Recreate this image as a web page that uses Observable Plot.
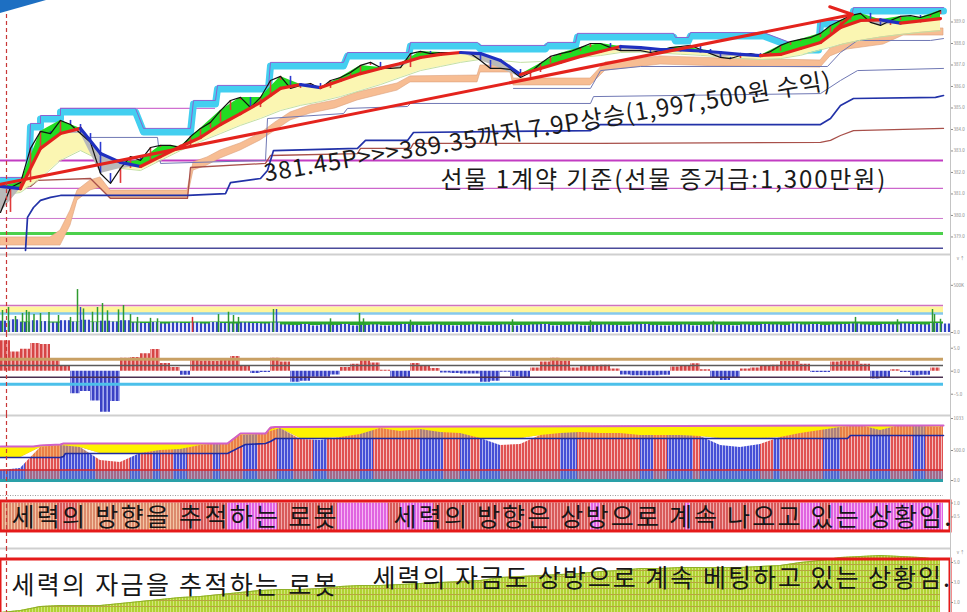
<!DOCTYPE html>
<html><head><meta charset="utf-8">
<script src="https://cdn.jsdelivr.net/npm/d3@7"></script>
<script src="https://cdn.jsdelivr.net/npm/@observablehq/plot@0.6"></script>
<style>
html,body{margin:0;padding:0;background:#fff;}
#wrap{position:relative;width:967px;height:612px;overflow:hidden;}
#wrap svg{display:block;}
#corner{position:absolute;left:0;top:0;width:46px;height:13px;background:#1d6fc2;clip-path:polygon(0 0,100% 0,0 100%);}
</style></head><body>
<svg width="0" height="0" style="position:absolute"><defs>
<pattern id="oR" width="4" height="4" patternUnits="userSpaceOnUse"><rect width="4" height="4" fill="#f3b0b0"/><rect width="2.4" height="4" fill="#d64545"/></pattern>
<pattern id="oB" width="4" height="4" patternUnits="userSpaceOnUse"><rect width="4" height="4" fill="#a6acef"/><rect width="2.4" height="4" fill="#3a41c4"/></pattern>
<pattern id="vB" width="4" height="4" patternUnits="userSpaceOnUse"><rect width="4" height="4" fill="#e2e5fb"/><rect width="2" height="4" fill="#3344c4"/></pattern>
<pattern id="p4R" width="3" height="4" patternUnits="userSpaceOnUse"><rect width="3" height="4" fill="#f4bcbc"/><rect width="2" height="4" fill="#e05252"/></pattern>
<pattern id="p4B" width="3" height="4" patternUnits="userSpaceOnUse"><rect width="3" height="4" fill="#b0b5f0"/><rect width="2" height="4" fill="#4650d6"/></pattern>
<pattern id="p5R" width="3" height="4" patternUnits="userSpaceOnUse"><rect width="3" height="4" fill="#f2aaaa"/><rect width="2" height="4" fill="#d85a5a"/></pattern>
<pattern id="p5M" width="3" height="4" patternUnits="userSpaceOnUse"><rect width="3" height="4" fill="#f6b6f4"/><rect width="2" height="4" fill="#e064e0"/></pattern>
<pattern id="p5T" width="3" height="4" patternUnits="userSpaceOnUse"><rect width="3" height="4" fill="#f3c6a6"/><rect width="2" height="4" fill="#dc8a6c"/></pattern>
<pattern id="gO" width="3" height="6" patternUnits="userSpaceOnUse"><rect width="3" height="6" fill="#b0d232"/><rect x="2" width="1" height="6" fill="#d2e67a"/><rect y="5" width="3" height="1" fill="#b8a440"/></pattern>
</defs></svg>
<div id="wrap"><div id="corner"></div></div>
<script>
// ---------------- DATA ----------------
// main price panel (t = time index, 1 unit = 10 px step of the screenshot)
const black = [380.14,381.30,381.53,383.12,383.91,383.81,384.42,384.23,383.81,383.40,
 381.95,381.49,382.19,382.74,382.56,383.16,383.26,383.26,383.16,383.67,
 384.05,384.33,384.88,385.35,385.49,385.02,385.49,386.28,386.47,385.91,
 386.05,386.14,385.91,386.28,386.42,386.65,386.98,387.12,386.88,386.84,
 386.88,387.53,387.63,387.53,387.58,387.58,387.58,387.53,387.21,386.84,
 386.84,386.79,386.42,386.65,387.07,387.40,387.53,387.63,387.81,388.00,
 388.00,387.81,387.67,387.67,387.67,387.58,387.67,387.81,387.86,387.91,
 387.72,387.53,387.35,387.30,387.44,387.53,387.44,387.63,387.91,388.09,
 388.19,388.28,388.47,388.84,389.07,389.30,389.40,388.98,388.84,389.07,
 389.26,389.30,389.21,389.35,389.53];
// thick moving average, every 2 steps
const ma = [381.35,381.25,383.12,383.81,384.05,382.88,382.47,382.28,382.74,383.21,
 383.63,384.23,384.74,385.26,385.91,386.09,385.95,386.28,386.60,386.84,
 387.07,387.35,387.49,387.58,387.53,387.21,386.56,386.84,387.12,387.40,
 387.63,387.86,387.81,387.72,387.70,387.65,387.58,387.49,387.44,387.49,
 387.77,388.05,388.74,389.07,389.10,388.95,389.05,389.16];
const yellowLow = [380.93,381.07,381.72,382.56,383.02,382.56,382.19,382.09,382.56,383.02,
 383.44,383.81,384.19,384.51,384.88,385.12,385.30,385.53,385.81,386.09,
 386.42,386.74,386.93,387.12,387.26,387.21,387.12,387.16,387.21,387.35,
 387.44,387.58,387.60,387.55,387.50,387.45,387.38,387.30,387.25,387.30,
 387.45,387.70,387.95,388.15,388.30,388.42,388.52,388.60];
const cyanT = [0,2.8,3.0,4.0,4.0,6.0,6.0,13.5,14.3,19.0,19.3,21.5,21.7,26.8,27.0,34.3,34.7,40.8,41.0,47.7,48.0,54.5,54.7,57.5,57.7,67.3,67.5,68.8,69.0,76.3,80.0,81.8,82.0,85.0,85.3,94.3];
const cyanV = [381.77,381.77,384.28,384.28,384.65,384.65,384.98,384.98,384.05,384.05,385.35,385.35,386.05,386.05,387.12,387.12,387.58,387.58,388.05,388.05,387.91,387.91,388.05,388.05,388.47,388.47,388.28,388.28,388.51,388.51,387.86,387.86,389.07,389.07,389.67,389.67];
const orangeT = [0,5.0,6.0,7.0,7.7,9.0,10.0,11.0,18.7,19.3,20.7,22.0,24.0,26.0,27.5,29.0,31.0,33.5,35.7,39.7,41.0,47.7,48.0,51.0,51.3,59.0,60.5,66.0,72.3,82.0,83.0,84.7,88.3,90.3,94.3];
const orangeTop = [378.98,378.98,379.30,380.23,381.16,381.63,381.77,381.16,381.16,382.47,382.70,383.02,383.35,383.81,384.33,384.79,385.12,385.35,385.72,386.14,386.47,386.51,386.98,386.98,386.37,386.37,387.12,387.40,387.30,387.21,387.77,388.05,388.33,388.70,388.70];
const orangeBot = [378.60,378.60,378.60,379.53,380.70,381.16,381.30,380.79,380.79,382.09,382.33,382.65,383.02,383.49,383.95,384.42,384.74,384.98,385.35,385.81,386.19,386.19,386.65,386.65,386.05,386.05,386.74,387.02,386.93,386.88,387.40,387.72,387.95,388.37,388.37];
const navyT = [2.5,2.7,3.3,4.0,5.0,6.0,18.7,22.5,23.0,26.0,26.7,27.3,35.7,36.5,40.7,41.3,59.0,60.0,82.0,83.0,84.0,85.3,93.5,94.3];
const navyV = [378.37,379.91,380.37,380.70,380.84,380.93,380.93,381.02,381.53,381.72,382.09,383.02,383.12,383.49,383.49,383.86,383.95,384.23,384.23,384.51,385.12,385.44,385.49,385.58];
const brownT = [0,3.0,3.7,9.0,11.0,18.7,19.0,26.5,27.0,35.7,36.0,41.0,41.3,60.0,82.0,83.0,84.0,85.3,94.3];
const brownV = [381.16,381.35,381.63,381.72,380.79,380.79,382.23,382.42,382.79,382.88,383.12,383.12,383.35,383.35,383.40,383.49,383.72,383.95,384.05];
const slate1T = [8.0,15.7,16.0,26.5,26.7,34.3,34.7,40.7,41.0,59.0,59.3,82.0,84.0,85.7,94.3];
const slate1V = [383.63,383.63,382.42,382.56,384.51,384.74,384.98,385.07,385.21,385.21,385.53,385.67,386.28,386.74,386.84];
const slate2T = [51.3,59.0,60.0,64.0,82.7,84.0,85.7,93.0,94.3];
const slate2V = [385.91,385.91,386.74,386.93,386.93,387.58,388.14,388.14,388.23];
const pinkSegs = [[6.0,21.5,384.98]];
const levels = [382.56,381.26,379.86,379.16,378.47];
const priceTicks = [389,388,387,386,385,384,383,382,381,380,379];
const arrowFrom = [0,381.45], arrowTo = [85.2,389.35];
const note1 = "381.45P>>>389.35까지 7.9P상승(1,997,500원 수익)";
const note2 = "선물 1계약 기준(선물 증거금:1,300만원)";

// volume panel
const volBase = [120,135,105,125,115,100,125,110,130,105,120,110,125,
 100,95,105,90,100,95,100,90,105,95,90,100,95,90,100,
 80,75,85,70,80,75,85,70,75,80,70,75,85,75,70,80,75,70,75,80,
 70,75,80,70,75,80,85,70,75,80,70,75,80,75,70,80,85,75,70,75,
 80,70,75,80,75,70,80,75,85,80,75,90,80,85,75,80,85,90,80,75,85,80,90,85,80,95,90];
const spikeT = [0.2,0.8,1.5,2.2,2.6,2.85,3.35,4.0,4.85,5.8,7.0,7.7,8.0,8.3,9.2,9.7,10.2,10.7,11.8,12.3,13.0,13.7,15.0,15.7,19.2,21.8,22.8,23.3,23.8,27.3,27.6,33.0,35.9,36.3,41.0,51.2,59.0,71.3,85.5,89.7,93.2,93.4,94.0];
const spikeV = [233,265,170,201,233,215,190,201,212,180,160,455,265,250,215,265,307,230,240,286,190,160,150,145,160,190,215,180,160,244,244,145,201,145,130,135,125,120,160,135,244,190,140];
const spikeKind = "GGGGGGGGGGGGBGGGGGGGGGGGRGGGGGBGGGGGGGGGGGG";
const volLevels = [286,238.5,201,97.5];

// oscillator panel
const osc = [6.6,4.2,4.8,6.0,5.8,2.3,1.0,-4.9,-4.4,-6.5,-8.9,-6.6,2.8,3.0,3.8,4.7,1.7,0.8,-0.9,2.7,
 2.2,2.1,2.4,3.2,1.2,-0.5,-0.3,2.8,2.0,-2.4,-2.2,-1.3,-1.3,-0.8,0.8,1.5,2.3,1.8,0.2,-1.4,
 -1.6,1.7,1.2,0.6,-0.4,-0.5,-0.6,-0.6,-2.4,-2.2,-0.2,-1.2,-1.6,0.7,2.0,2.8,2.2,0.7,1.0,1.2,
 1.3,0.5,-0.8,-1.0,-1.0,-1.0,-0.9,0.9,1.0,1.6,0.3,-1.4,-2.0,-1.6,0.5,0.7,1.2,1.3,2.1,2.1,
 1.5,-0.3,-0.3,2.0,2.2,2.2,1.5,-1.7,-1.5,0.3,-0.3,-1.0,-0.9,0.7,0.7];
const oscLevels = [2.6,1.25,-1.3,-2.85];

// cumulative panel
const envelope = [167,200,550,583,550,333,300,450,500,516,583,616,750,766,866,683,666,716,766,866,
 816,850,800,783,700,583,600,750,783,800,783,783,750,750,750,733,583,550,600,716,
 783,833,883,916,833,916,900,883];
const p4X = [0,3.3,4.0,6.0,6.3,6.5,22.7,24.0,24.5,26.5,27.0,27.5,48.0,84.7,85.0,94.3];
const p4Top = [566,566,583,600,616,616,616,783,783,783,883,890,900,916,916,916];
const p4Navy = [383,383,383,383,400,450,450,560,600,616,650,700,700,700,750,750];
const p4RedLine = 175, p4Dotted = -250;
const p4Runs = [[0,2.5,"B"],[2.5,6,"R"],[6,9.5,"B"],[9.5,13,"R"],[13,14,"B"],[14,15.3,"R"],[15.3,16,"B"],[16,17.3,"R"],[17.3,18.7,"B"],[18.7,21.3,"R"],[21.3,22,"B"],[22,24.3,"R"],[24.3,25.7,"B"],[25.7,27.7,"R"],[27.7,29.3,"B"],[29.3,31.3,"R"],[31.3,32.7,"B"],[32.7,36,"R"],[36,37.3,"B"],[37.3,42,"R"],[42,44.3,"B"],[44.3,46,"R"],[46,47,"B"],[47,48,"R"],[48,50,"B"],[50,56,"R"],[56,57.7,"B"],[57.7,64,"R"],[64,65.3,"B"],[65.3,66.7,"R"],[66.7,69.3,"B"],[69.3,70,"R"],[70,76,"B"],[76,77.3,"R"],[77.3,78,"B"],[78,82.3,"R"],[82.3,84,"B"],[84,87,"R"],[87,89,"B"],[89,91.3,"R"],[91.3,92.5,"B"],[92.5,94.3,"R"]];

// direction panel
const p5Runs = [[0,5.7,"T"],[5.7,7.7,"R"],[7.7,18,"T"],[18,22.7,"R"],[22.7,27.7,"M"],[27.7,33.7,"R"],[33.7,38.8,"M"],[38.8,40,"R"],[40,43.3,"M"],[43.3,59,"R"],[59,60,"M"],[60,68.5,"R"],[68.5,69,"M"],[69,80,"R"],[80,82,"M"],[82,83,"R"],[83,94.3,"M"]];
const p5Text1 = "세력의 방향을 추적하는 로봇";
const p5Text2 = "세력의 방향은 상방으로 계속 나오고 있는 상황임.";

// money panel
const money = [0,20,60,70,70,70,90,110,130,150,160,180,200,220,230,230,240,260,270,270,
 280,290,300,310,320,350,360,370,380,390,410,420,440,440,450,450,450,450,460,470,
 500,520,550,560,570,560,550,530];
const p6Text1 = "세력의 자금을 추적하는 로봇";
const p6Text2 = "세력의 자금도 상방으로 계속 베팅하고 있는 상황임.";

// ---------------- DRAWING ----------------
const FONT = "'Noto Sans CJK KR','Noto Sans',sans-serif";
const T_MAX = 94.3, AX = 95.0, BOX_R = 95.0, CURSOR = 0.6;
const wrap = document.getElementById("wrap");

function panel(height, domain, marks) {
  const svg = Plot.plot({
    width: 967, height, marginLeft: 0, marginRight: 24, marginTop: 0, marginBottom: 0,
    x: {domain: [0, T_MAX], axis: null},
    y: {domain, axis: null},
    color: {type: "identity"},
    style: {fontFamily: FONT, fontSize: "4.5px", background: "transparent", overflow: "visible", color: "#8a8a8a"},
    marks
  });
  wrap.appendChild(svg);
}
const axis = (ticks, fmt) => [
  Plot.ruleX([AX], {stroke: "#c4c4c4"}),
  Plot.axisY(ticks, {anchor: "right", dx: 7, tickSize: 2, tickPadding: 1, fontSize: 4.5, tickFormat: fmt})
];
const cursor = () => Plot.ruleX([CURSOR], {stroke: "#c83838", strokeWidth: 1.2, strokeDasharray: "4,3"});
const sepTop = (v) => Plot.ruleY([v], {x1: 0, x2: AX, stroke: "#cfcfcf", strokeWidth: 2, dy: 1});
const zipTV = (T, V) => T.map((t, i) => ({t, v: V[i]}));

// ---- Panel 1: price
{
  const maRows = ma.map((v, i) => ({t: 2 * i, ma: v, yl: yellowLow[i], bk: black[2 * i]}));
  const maSegs = d3.pairs(maRows).map(([a, b]) => ({x1: a.t, y1: a.ma, x2: b.t, y2: b.ma, c: b.ma >= a.ma ? "#e3231e" : "#1f2fc0"}));
  const bRows = black.map((v, i) => ({t: i, v}));
  const candles = d3.pairs(bRows).map(([a, b]) => ({t: b.t, o: a.v, c: b.v, col: b.v >= a.v ? "#e03a3a" : "#2d3bd0"}));
  const oRows = orangeT.map((t, i) => ({t, top: orangeTop[i], bot: orangeBot[i]}));
  const levelStyle = [["#c23cc2", 2], ["#cc66cc", 1.2], ["#cc77cc", 1], ["#4cd04c", 3], ["#4a4a9a", 1.5]];
  panel(253, [378.23, 390], [
    ...levels.map((v, i) => Plot.ruleY([v], {x1: 0, x2: T_MAX, stroke: levelStyle[i][0], strokeWidth: levelStyle[i][1]})),
    Plot.areaY(oRows, {x: "t", y1: "bot", y2: "top", fill: "#f7bd93", stroke: "#dca07a", strokeWidth: 0.6}),
    Plot.line(zipTV(slate1T, slate1V), {x: "t", y: "v", stroke: "#7078b4", strokeWidth: 1}),
    Plot.line(zipTV(slate2T, slate2V), {x: "t", y: "v", stroke: "#7078b4", strokeWidth: 1}),
    Plot.line(zipTV(brownT, brownV), {x: "t", y: "v", stroke: "#a8504a", strokeWidth: 1.3}),
    Plot.line(zipTV(navyT, navyV), {x: "t", y: "v", stroke: "#2232a8", strokeWidth: 1.7}),
    Plot.ruleY(pinkSegs, {x1: d => d[0], x2: d => d[1], y: d => d[2], stroke: "#d070d0", strokeWidth: 1.3}),
    Plot.line(zipTV(cyanT, cyanV), {x: "t", y: "v", stroke: "#43cff0", strokeWidth: 7, dy: 3.5}),
    Plot.line(zipTV(cyanT, cyanV), {x: "t", y: "v", stroke: "#8a62d0", strokeWidth: 1}),
    Plot.areaY(maRows, {x: "t", y1: d => Math.min(d.yl, d.ma), y2: "ma", fill: "#fbf6b2"}),
    Plot.line(maRows, {x: "t", y: "yl", stroke: "#c4e0a4", strokeWidth: 1}),
    Plot.areaY(maRows, {x: "t", y1: "ma", y2: d => Math.max(d.bk, d.ma), fill: "#22dc22"}),
    Plot.areaY(maRows, {x: "t", y1: "ma", y2: d => Math.min(d.bk, d.ma), fill: "#b9b9b9"}),
    Plot.ruleX(candles, {x: "t", y1: "o", y2: "c", stroke: "col", strokeWidth: 1.6}),
    Plot.line(bRows, {x: "t", y: "v", stroke: "#111", strokeWidth: 1.2}),
    Plot.link(maSegs, {x1: "x1", y1: "y1", x2: "x2", y2: "y2", stroke: "c", strokeWidth: 3.2, strokeLinecap: "round"}),
    Plot.arrow([{}], {x1: arrowFrom[0], y1: arrowFrom[1], x2: arrowTo[0], y2: arrowTo[1], stroke: "#e4231d", strokeWidth: 3, headLength: 12}),
    Plot.text([note1], {x: 26.5, y: 381.58, text: d => d, textAnchor: "start", lineAnchor: "bottom", rotate: -9.3, fontSize: 24, fill: "#1a1a1a"}),
    Plot.text([note2], {x: 44.0, y: 381.30, text: d => d, textAnchor: "start", lineAnchor: "bottom", fontSize: 24, fill: "#1a1a1a"}),
    ...axis(priceTicks, d3.format(".1f")),
    cursor()
  ]);
}

// ---- Panel 2: volume
{
  const vRows = volBase.map((v, i) => ({t: i, v}));
  const spikes = spikeT.map((t, i) => ({t, v: spikeV[i], c: {G: "#2e9a2e", R: "#d83030", B: "#3344c4"}[spikeKind[i]]}));
  panel(80, [-10.6, 837.4], [
    Plot.ruleY([volLevels[1]], {x1: 0, x2: T_MAX, stroke: "#fff59a", strokeWidth: 7}),
    Plot.ruleY([volLevels[0]], {x1: 0, x2: T_MAX, stroke: "#d070c0", strokeWidth: 1.5}),
    Plot.ruleY([volLevels[2]], {x1: 0, x2: T_MAX, stroke: "#86c8ec", strokeWidth: 2.5}),
    Plot.ruleY([volLevels[3]], {x1: 0, x2: T_MAX, stroke: "#2aa82a", strokeWidth: 3.5}),
    Plot.rect(vRows, {x1: "t", x2: d => d.t + 1, y1: 0, y2: "v", fill: "url(#vB)"}),
    Plot.ruleX(spikes, {x: "t", y1: 0, y2: "v", stroke: "c", strokeWidth: 1.5}),
    sepTop(837.4),
    ...axis([0, 500], d => d === 0 ? "0.0" : "500K"),
    cursor()
  ]);
}

// ---- Panel 3: oscillator
{
  const oRows = osc.map((v, i) => ({t: i, v}));
  const oscStyle = [["#c8a064", 3], ["#5a5a5a", 1.5], ["#4a3050", 1.5], ["#4cc0ea", 3]];
  panel(81, [-9.41, 8.2], [
    Plot.areaY(oRows, {x: "t", y1: 0, y2: d => Math.max(d.v, 0), curve: "step-after", fill: "url(#oR)"}),
    Plot.areaY(oRows, {x: "t", y1: 0, y2: d => Math.min(d.v, 0), curve: "step-after", fill: "url(#oB)"}),
    ...oscLevels.map((v, i) => Plot.ruleY([v], {x1: 0, x2: T_MAX, stroke: oscStyle[i][0], strokeWidth: oscStyle[i][1]})),
    sepTop(8.2),
    ...axis([5, 0, -5], d3.format(".1f")),
    cursor()
  ]);
}

// ---- Panel 4: cumulative
{
  const P4_MAX = 1100;
  const stepAt = (t, V) => { let k = 0; for (let j = 0; j < p4X.length; j++) if (p4X[j] <= t) k = j; return V[k]; };
  const eRows = envelope.map((v, i) => ({t: 2 * i, v, nav: stepAt(2 * i, p4Navy), top: stepAt(2 * i, p4Top)}));
  const pRows = p4X.map((t, i) => ({t, top: p4Top[i], nav: p4Navy[i]}));
  const runs = p4Runs.map(([a, b, k]) => ({a, b, f: k === "R" ? "url(#p4R)" : "url(#p4B)"}));
  panel(83, [-283, P4_MAX], [
    Plot.rect(runs, {x1: "a", x2: "b", y1: 0, y2: P4_MAX, fill: "f"}),
    Plot.areaY(pRows, {x: "t", y1: "nav", y2: P4_MAX, fill: "#f0a040", fillOpacity: 0.6}),
    Plot.rect([{}], {x1: 0, x2: T_MAX, y1: 0, y2: p4RedLine, fill: "#5a80c8", fillOpacity: 0.45}),
    Plot.areaY(eRows, {x: "t", y1: "v", y2: d => Math.max(d.v, d.nav), fill: "#fff"}),
    Plot.areaY(eRows, {x: "t", y1: d => Math.max(d.v, d.nav), y2: d => Math.max(d.top, d.v, d.nav), fill: "#fff200"}),
    Plot.areaY(pRows, {x: "t", y1: "top", y2: P4_MAX, fill: "#fff"}),
    Plot.line(pRows, {x: "t", y: "top", stroke: "#d060c8", strokeWidth: 2}),
    Plot.line(pRows, {x: "t", y: "nav", stroke: "#1e2aa0", strokeWidth: 1.6}),
    Plot.ruleY([p4RedLine], {x1: 0, x2: T_MAX, stroke: "#e02020", strokeWidth: 1.5}),
    Plot.ruleY([0], {x1: 0, x2: T_MAX, stroke: "#2aa0a8", strokeWidth: 3}),
    Plot.ruleY([p4Dotted], {x1: 0, x2: T_MAX, stroke: "#9a9a9a", strokeWidth: 1, strokeDasharray: "1,1.5"}),
    sepTop(P4_MAX),
    ...axis([1033, 500, 0], d => d === 1033 ? "1033" : d3.format(".1f")(d)),
    cursor()
  ]);
}

// ---- Panel 5: direction
{
  const runs = p5Runs.map(([a, b, k]) => ({a, b, f: {R: "url(#p5R)", M: "url(#p5M)", T: "url(#p5T)"}[k]}));
  panel(50, [-0.6, 1.2], [
    Plot.rect(runs, {x1: "a", x2: "b", y1: 0, y2: 1, fill: "f"}),
    Plot.rect([{}], {x1: 0, x2: BOX_R, y1: -0.023, y2: 1.056, fill: "none", stroke: "#e51a1a", strokeWidth: 3}),
    Plot.text([p5Text1], {x: 1.1, y: 0.157, text: d => d, textAnchor: "start", lineAnchor: "bottom", fontSize: 25, fill: "#161616"}),
    Plot.text([p5Text2], {x: 39.3, y: 0.157, text: d => d, textAnchor: "start", lineAnchor: "bottom", fontSize: 25, fill: "#161616"}),
    ...axis([1, 0.5], d3.format(".1f")),
    cursor()
  ]);
}

// ---- Panel 6: money
{
  const mRows = money.map((v, i) => ({t: 2 * i, v}));
  panel(65, [0, 650], [
    Plot.areaY(mRows, {x: "t", y1: 0, y2: "v", fill: "url(#gO)"}),
    Plot.line(mRows, {x: "t", y: "v", stroke: "#8fb028", strokeWidth: 1.2}),
    Plot.rect([{}], {x1: 0, x2: BOX_R, y1: -40, y2: 530, fill: "none", stroke: "#e51a1a", strokeWidth: 3}),
    Plot.text([p6Text1], {x: 1.1, y: 190, text: d => d, textAnchor: "start", lineAnchor: "bottom", fontSize: 25, fill: "#161616"}),
    Plot.text([p6Text2], {x: 37.2, y: 260, text: d => d, textAnchor: "start", lineAnchor: "bottom", fontSize: 25, fill: "#161616"}),
    sepTop(650),
    ...axis([500, 300, 100], d => d3.format(".1f")(d / 100)),
    cursor()
  ]);
}

// letter spacing of the annotation texts (the original font sets them wider)
const spacing = new Map([[note1, 0.9], [note2, 1.9], [p5Text1, 2.3], [p5Text2, 2.2], [p6Text1, 2.3], [p6Text2, 2.0]]);
d3.selectAll("#wrap svg text").each(function () {
  const s = spacing.get(this.textContent);
  if (s != null) this.style.letterSpacing = s + "px";
});
</script>
</body></html>
